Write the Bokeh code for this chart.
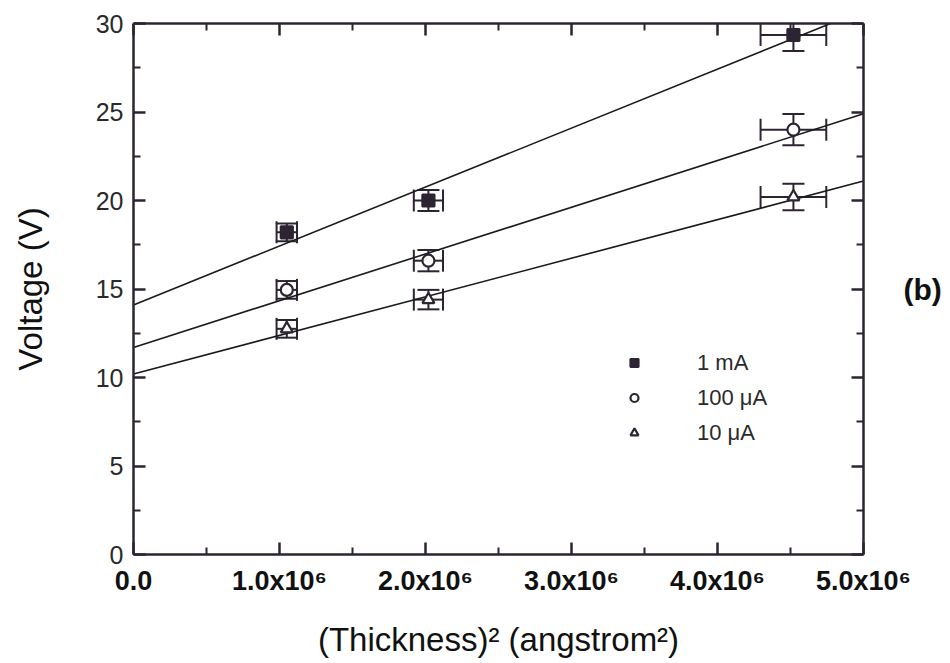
from bokeh.plotting import figure
from bokeh.models import (Range1d, LinearAxis, FixedTicker, Whisker, TeeHead,
                          ColumnDataSource, Legend, LegendItem)
from bokeh.embed import file_html
from bokeh.resources import INLINE

# ---- data ----
thickness_sq = [1.05e6, 2.02e6, 4.52e6]
thickness_sq_err = [0.07e6, 0.10e6, 0.225e6]
v_1mA = [18.2, 20.0, 29.35]
v_1mA_err = [0.5, 0.6, 0.9]
v_100uA = [14.95, 16.6, 24.0]
v_100uA_err = [0.5, 0.6, 0.88]
v_10uA = [12.75, 14.4, 20.2]
v_10uA_err = [0.5, 0.55, 0.75]
fit_intercepts = [14.1, 11.7, 10.2]
fit_slopes = [3.33e-6, 2.64e-6, 2.18e-6]
fit_x = [0.0, 5.0e6]
series_names = ["1 mA", "100 \u03bcA", "10 \u03bcA"]
x_ticks = [0.0, 1e6, 2e6, 3e6, 4e6, 5e6]
x_tick_labels = ["0.0", "1.0x10\u2076", "2.0x10\u2076", "3.0x10\u2076", "4.0x10\u2076", "5.0x10\u2076"]
x_minor = [0.5e6, 1.5e6, 2.5e6, 3.5e6, 4.5e6]
y_ticks = [0, 5, 10, 15, 20, 25, 30]
y_minor = [2.5, 7.5, 12.5, 17.5, 22.5, 27.5]

INK = "#2d2433"
FONT = "Liberation Sans"

p = figure(width=944, height=660, output_backend="svg", toolbar_location=None,
           x_range=Range1d(0, 5.0e6), y_range=Range1d(0, 30),
           min_border_left=133, min_border_right=80, min_border_top=23,
           min_border_bottom=104, x_axis_type=None, y_axis_type=None)
p.background_fill_color = "white"
p.border_fill_color = "white"
p.outline_line_color = None
p.xgrid.visible = False
p.ygrid.visible = False


def style_axis(ax, ticks, minor, show_labels):
    ax.ticker = FixedTicker(ticks=ticks, minor_ticks=minor)
    ax.axis_line_color = INK
    ax.axis_line_width = 2.5
    ax.major_tick_line_color = INK
    ax.major_tick_line_width = 2.5
    ax.minor_tick_line_color = INK
    ax.minor_tick_line_width = 2
    ax.major_tick_in = 12
    ax.major_tick_out = 0
    ax.minor_tick_in = 7
    ax.minor_tick_out = 0
    if not show_labels:
        ax.major_label_text_font_size = "0px"
        ax.major_label_text_alpha = 0
        ax.major_label_standoff = 0


xb = LinearAxis()
style_axis(xb, x_ticks, x_minor, True)
xb.major_label_overrides = {t: l for t, l in zip(x_ticks, x_tick_labels)}
xb.major_label_text_font = FONT
xb.major_label_text_font_style = "bold"
xb.major_label_text_font_size = "27px"
xb.major_label_text_color = "#111111"
xb.major_label_standoff = 11
xb.axis_label = "(Thickness)\u00b2 (angstrom\u00b2)"
xb.axis_label_text_font = FONT
xb.axis_label_text_font_style = "normal"
xb.axis_label_text_font_size = "33px"
xb.axis_label_text_color = "#111111"
xb.axis_label_standoff = 22
p.add_layout(xb, "below")

yl = LinearAxis()
style_axis(yl, y_ticks, y_minor, True)
yl.major_label_text_font = FONT
yl.major_label_text_font_size = "25px"
yl.major_label_text_color = "#2a2a2a"
yl.major_label_standoff = 10
yl.axis_label = "Voltage (V)"
yl.axis_label_text_font = FONT
yl.axis_label_text_font_style = "normal"
yl.axis_label_text_font_size = "33px"
yl.axis_label_text_color = "#111111"
yl.axis_label_standoff = 44
p.add_layout(yl, "left")

xt = LinearAxis()
style_axis(xt, x_ticks, x_minor, False)
p.add_layout(xt, "above")
yr = LinearAxis()
style_axis(yr, y_ticks, y_minor, False)
yr.axis_label = "(b)"
yr.axis_label_orientation = "horizontal"
yr.axis_label_text_font = FONT
yr.axis_label_text_font_style = "bold"
yr.axis_label_text_font_size = "30px"
yr.axis_label_text_color = "#111111"
yr.axis_label_standoff = 40
p.add_layout(yr, "right")

# ---- fit lines ----
for b, m in zip(fit_intercepts, fit_slopes):
    p.line(fit_x, [b + m * x for x in fit_x], line_color="#1a1a1a", line_width=1.6)

# ---- error bars + markers ----
series = [(v_1mA, v_1mA_err, "square", INK),
          (v_100uA, v_100uA_err, "circle", "white"),
          (v_10uA, v_10uA_err, "triangle", "white")]
renderers = []
for (vals, errs, marker, fill) in series:
    src = ColumnDataSource(dict(
        x=thickness_sq, y=vals,
        ylo=[v - e for v, e in zip(vals, errs)], yhi=[v + e for v, e in zip(vals, errs)],
        xlo=[x - e for x, e in zip(thickness_sq, thickness_sq_err)],
        xhi=[x + e for x, e in zip(thickness_sq, thickness_sq_err)]))
    wy = Whisker(source=src, base="x", lower="ylo", upper="yhi", dimension="height",
                 line_color=INK, line_width=2,
                 lower_head=TeeHead(size=22, line_color=INK, line_width=2),
                 upper_head=TeeHead(size=22, line_color=INK, line_width=2))
    wx = Whisker(source=src, base="y", lower="xlo", upper="xhi", dimension="width",
                 line_color=INK, line_width=2,
                 lower_head=TeeHead(size=22, line_color=INK, line_width=2),
                 upper_head=TeeHead(size=22, line_color=INK, line_width=2))
    p.add_layout(wy)
    p.add_layout(wx)
    r = p.scatter("x", "y", source=src, marker=marker, size=12,
                  fill_color=fill, line_color=INK, line_width=2.2)
    renderers.append(r)

legend = Legend(items=[LegendItem(label=n, renderers=[r]) for n, r in zip(series_names, renderers)],
                location=(491, 104), orientation="vertical",
                glyph_width=20, glyph_height=35, label_height=35, label_standoff=53,
                padding=0, margin=0, spacing=0, border_line_color=None,
                background_fill_alpha=0,
                label_text_font=FONT, label_text_font_size="22px",
                label_text_color="#2a2a2a")
p.add_layout(legend, "center")

html = file_html(p, INLINE)
open("out.html", "w").write(html)
